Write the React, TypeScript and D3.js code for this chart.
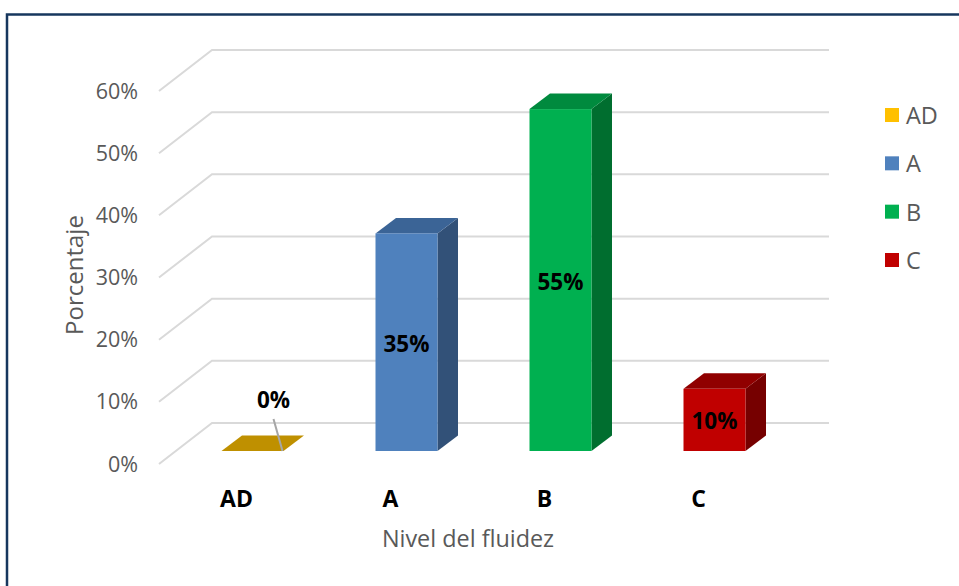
import React, { useEffect, useRef } from 'react';
import * as d3 from 'd3';

const categories = ['AD', 'A', 'B', 'C'];
const values = [0, 35, 55, 10];
const yTicks = [0, 10, 20, 30, 40, 50, 60];
const frontColors = ['#bf9000', '#4f81bd', '#00b050', '#c00000'];
const topColors = ['#bf9000', '#3b6496', '#008a3e', '#900000'];
const sideColors = ['#bf9000', '#325178', '#006e2f', '#760000'];
const legendColors = ['#ffc000', '#4f81bd', '#00b050', '#c00000'];

const FONT = '"Open Sans", sans-serif';

const App = () => {
    const chartRef = useRef<SVGSVGElement | null>(null);

    useEffect(() => {
        const svg = d3.select(chartRef.current);
        svg.selectAll('*').remove();

        // outer frame, runs off the right and bottom of the picture
        svg.append('path')
            .attr('d', 'M7,600V14.5H970')
            .attr('fill', 'none')
            .attr('stroke', '#17375e')
            .attr('stroke-width', 2.5);

        const x = d3.scalePoint<string>().domain(categories).range([252.5, 714.5]);
        const y = d3.scaleLinear().domain([0, 60]).range([451, 78]);

        const barWidth = 62;
        const barDepth = { x: 20.5, y: -15.5 };
        // the walls of the 3D box, relative to the bars' front plane
        const floorFront = { x: 159, y: 13 };
        const floorBack = { x: 212, y: -28 };
        const gridEnd = 829;

        const line = d3.line();

        // gridlines, front edge to back wall and along it
        svg.append('g')
            .selectAll('path')
            .data(yTicks)
            .join('path')
            .attr('d', d => line([
                [floorFront.x, y(d) + floorFront.y],
                [floorBack.x, y(d) + floorBack.y],
                [gridEnd, y(d) + floorBack.y],
            ]))
            .attr('fill', 'none')
            .attr('stroke', '#d9d9d9')
            .attr('stroke-width', 2);

        // y tick labels
        svg.append('g')
            .selectAll('text')
            .data(yTicks)
            .join('text')
            .attr('x', 138)
            .attr('y', d => y(d) + floorFront.y - 1)
            .attr('text-anchor', 'end')
            .attr('dominant-baseline', 'central')
            .attr('font-family', FONT)
            .attr('font-size', 21.5)
            .attr('fill', '#595959')
            .text(d => `${d}%`);

        // bars: side, top, front
        const bars = svg.append('g')
            .selectAll('g')
            .data(categories)
            .join('g');

        bars.append('path')
            .attr('d', (c, i) => {
                const x1 = x(c)! + barWidth / 2;
                return line([
                    [x1, y(0)],
                    [x1 + barDepth.x, y(0) + barDepth.y],
                    [x1 + barDepth.x, y(values[i]) + barDepth.y],
                    [x1, y(values[i])],
                ]);
            })
            .attr('fill', (c, i) => sideColors[i]);

        bars.append('path')
            .attr('d', (c, i) => {
                const x0 = x(c)! - barWidth / 2;
                const top = y(values[i]);
                return line([
                    [x0, top],
                    [x0 + barDepth.x, top + barDepth.y],
                    [x0 + barWidth + barDepth.x, top + barDepth.y],
                    [x0 + barWidth, top],
                ]);
            })
            .attr('fill', (c, i) => topColors[i]);

        bars.append('rect')
            .attr('x', c => x(c)! - barWidth / 2)
            .attr('y', (c, i) => y(values[i]))
            .attr('width', barWidth)
            .attr('height', (c, i) => y(0) - y(values[i]))
            .attr('fill', (c, i) => frontColors[i]);

        // leader line for the 0% label
        svg.append('path')
            .attr('d', line([
                [x('AD')! + 21, y(0) - 32],
                [x('AD')! + 30, y(0)],
            ]))
            .attr('stroke', '#a6a6a6')
            .attr('stroke-width', 2)
            .attr('fill', 'none');

        // data labels
        svg.append('g')
            .selectAll('text')
            .data(categories)
            .join('text')
            .attr('x', (c, i) => x(c)! + (values[i] === 0 ? 21 : 0))
            .attr('y', (c, i) => values[i] === 0 ? y(0) - 52 : (y(0) + y(values[i])) / 2 + 1)
            .attr('text-anchor', 'middle')
            .attr('dominant-baseline', 'central')
            .attr('font-family', FONT)
            .attr('font-size', 22.5)
            .attr('font-weight', 700)
            .attr('fill', '#000')
            .text((c, i) => `${values[i]}%`);

        // category labels
        svg.append('g')
            .selectAll('text')
            .data(categories)
            .join('text')
            .attr('x', c => x(c)! - 16)
            .attr('y', 498)
            .attr('text-anchor', 'middle')
            .attr('dominant-baseline', 'central')
            .attr('font-family', FONT)
            .attr('font-size', 23)
            .attr('font-weight', 700)
            .attr('fill', '#000')
            .text(c => c);

        // axis titles
        svg.append('text')
            .attr('x', 468)
            .attr('y', 538)
            .attr('text-anchor', 'middle')
            .attr('dominant-baseline', 'central')
            .attr('font-family', FONT)
            .attr('font-size', 23.4)
            .attr('fill', '#595959')
            .text('Nivel del fluidez');

        svg.append('text')
            .attr('transform', 'translate(73,275) rotate(-90)')
            .attr('text-anchor', 'middle')
            .attr('dominant-baseline', 'central')
            .attr('font-family', FONT)
            .attr('font-size', 24)
            .attr('fill', '#595959')
            .text('Porcentaje');

        // legend
        const legendY = d3.scalePoint<string>().domain(categories).range([115, 260]);
        const legend = svg.append('g')
            .selectAll('g')
            .data(categories)
            .join('g')
            .attr('transform', c => `translate(885,${legendY(c)})`);

        legend.append('rect')
            .attr('x', 0)
            .attr('y', -7)
            .attr('width', 14)
            .attr('height', 14)
            .attr('fill', (c, i) => legendColors[i]);

        legend.append('text')
            .attr('x', 21)
            .attr('y', 0)
            .attr('dominant-baseline', 'central')
            .attr('font-family', FONT)
            .attr('font-size', 23.5)
            .attr('fill', '#595959')
            .text(c => c);
    }, []);

    return (
        <svg
            ref={chartRef}
            width={959}
            height={586}
            style={{ position: 'absolute', left: 0, top: 0, background: '#fff' }}
        />
    );
};

export default App;
